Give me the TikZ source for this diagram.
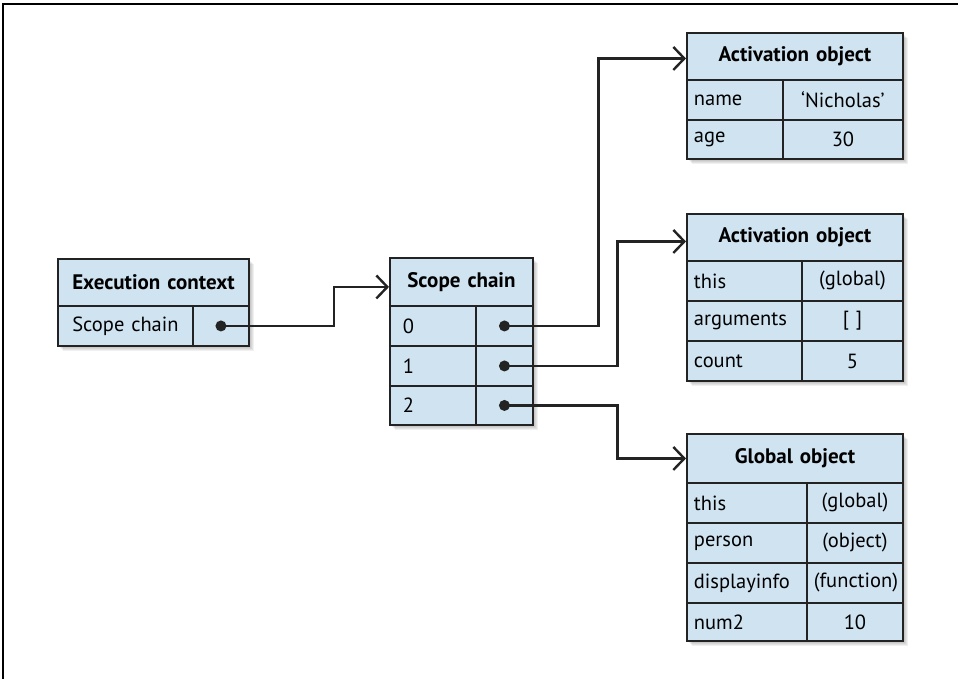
\documentclass[tikz,border=0pt]{standalone}
\usepackage{fontspec}
\setmainfont{PT Sans}
\usetikzlibrary{arrows.meta}
\definecolor{cellblue}{RGB}{207,227,241}
\definecolor{edgegray}{RGB}{35,35,35}
\newcommand\mycell[7]{%
  \pgfmathsetmacro\mytw{#4-14}%
  \node[cell,minimum width=#4pt,minimum height=#5pt,text width=\mytw pt,#6] (#1) at (#2,#3) {#7};}
\newcommand\myshadow[4]{%
  \foreach \i in {1,...,6}{\fill[black,opacity=0.06] (#1+\i,#2+\i) rectangle (#3+\i,#4+\i);}}
\begin{document}
\begin{tikzpicture}[x=1pt,y=-1pt,
  cell/.style={draw=edgegray,line width=1.9pt,fill=cellblue,inner xsep=7pt,inner ysep=0pt,
    anchor=north west,font=\fontsize{20.5}{24}\selectfont,align=left},
  head/.style={align=center,font=\fontsize{21}{24}\selectfont\bfseries},
  val/.style={align=center},
  ptr/.style={draw=edgegray,line width=2.4pt,-{Straight Barb[length=11pt,width=23pt,line width=2.4pt]}},
  dot/.style={fill=edgegray}]
\useasboundingbox (0,0) rectangle (958,679);
\draw[line width=1.5pt,black] (3,679) -- (3,4) -- (958,4);
% shadows
\myshadow{57}{258}{248}{345}
\myshadow{389}{257}{532}{424}
\myshadow{686}{32}{902}{158}
\myshadow{686}{213}{902}{380}
\myshadow{686}{433}{902}{640}
% Execution context
\mycell{ech}{57}{258}{191}{47}{head}{Execution context}
\mycell{eck}{57}{305}{135}{40}{val}{Scope chain}
\mycell{ecp}{192}{305}{56}{40}{}{}
% Scope chain
\mycell{sch}{389}{257}{143}{48}{head}{Scope chain}
\mycell{sck0}{389}{305}{86}{40}{}{\hspace{6pt}0}
\mycell{scp0}{475}{305}{57}{40}{}{}
\mycell{sck1}{389}{345}{86}{40}{}{\hspace{6pt}1}
\mycell{scp1}{475}{345}{57}{40}{}{}
\mycell{sck2}{389}{385}{86}{39}{}{\hspace{6pt}2}
\mycell{scp2}{475}{385}{57}{39}{}{}
% Activation object 1
\mycell{aah}{686}{32}{216}{47}{head}{Activation object}
\mycell{aak1}{686}{79}{96}{40}{}{name}
\mycell{aav1}{782}{79}{120}{40}{val}{‘Nicholas’}
\mycell{aak2}{686}{119}{96}{39}{}{age}
\mycell{aav2}{782}{119}{120}{39}{val}{30}
% Activation object 2
\mycell{abh}{686}{213}{216}{47}{head}{Activation object}
\mycell{abk1}{686}{260}{115}{40}{}{this}
\mycell{abv1}{801}{260}{101}{40}{val}{(global)}
\mycell{abk2}{686}{300}{115}{40}{}{arguments}
\mycell{abv2}{801}{300}{101}{40}{val}{[ ]}
\mycell{abk3}{686}{340}{115}{40}{}{count}
\mycell{abv3}{801}{340}{101}{40}{val}{5}
% Global object
\mycell{goh}{686}{433}{216}{49}{head}{Global object}
\mycell{gok1}{686}{482}{120}{40}{}{this}
\mycell{gov1}{806}{482}{96}{40}{val}{(global)}
\mycell{gok2}{686}{522}{120}{40}{}{person}
\mycell{gov2}{806}{522}{96}{40}{val}{(object)}
\mycell{gok3}{686}{562}{120}{40}{}{displayinfo}
\mycell{gov3}{806}{562}{96}{40}{val,inner xsep=3pt}{(function)}
\mycell{gok4}{686}{602}{120}{38}{}{num2}
\mycell{gov4}{806}{602}{96}{38}{val}{10}
% connectors
\draw[ptr] (ecp.center) -- ++(113,0) |- ([yshift=-5pt]sch.west);
\draw[ptr] (scp0.center) -- ++(94,0) |- ([yshift=-2pt]aah.west);
\draw[ptr] (scp1.center) -- ++(113,0) |- ([yshift=-4pt]abh.west);
\draw[ptr] (scp2.center) -- ++(113,0) |- (goh.west);
\fill[dot] (ecp.center) circle (5.5pt);
\fill[dot] (scp0.center) circle (5.5pt);
\fill[dot] (scp1.center) circle (5.5pt);
\fill[dot] (scp2.center) circle (5.5pt);
\end{tikzpicture}
\end{document}
